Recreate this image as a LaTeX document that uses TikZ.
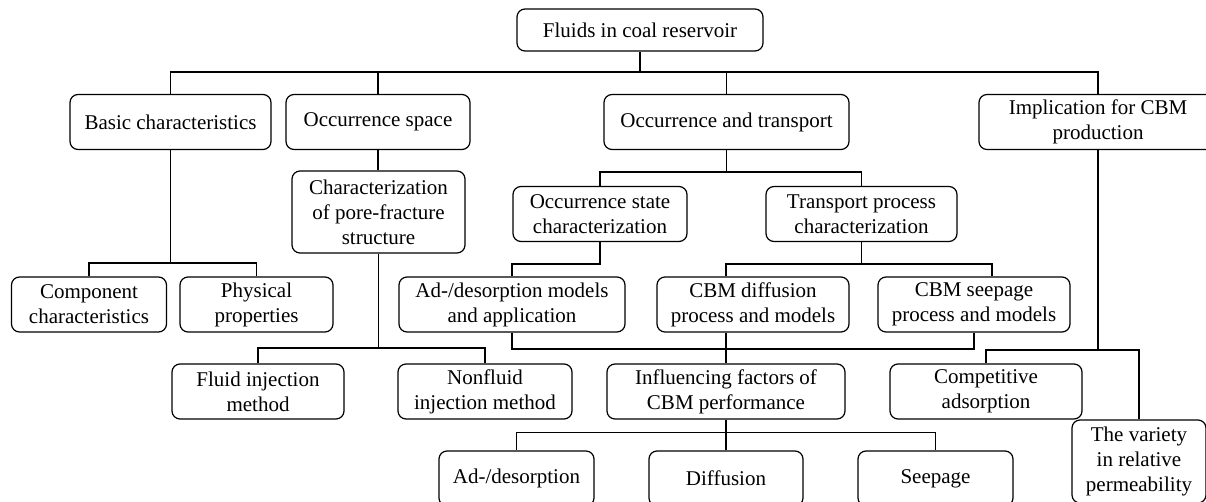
\documentclass[tikz,border=0pt]{standalone}
\usepackage{fontspec}
\setmainfont{Liberation Serif}
\usetikzlibrary{positioning}

\begin{document}
\begin{tikzpicture}[x=0.5pt,y=-0.5pt,line width=0.6pt,
        every node/.style={font=\fontsize{10.5}{12.5}\selectfont}]
        \tikzstyle{box}=[draw=black,fill=white,text=black,rounded corners=4pt,align=center,inner sep=1pt,minimum height=27.5pt]
        \useasboundingbox (0,0) rectangle (1206,502);
        % nodes
        \node[box,minimum width=123pt,minimum height=21pt](root) at (640,30){Fluids in coal reservoir};
        \node[box,minimum width=100.5pt](basic) at (170.5,122){Basic characteristics};
        \node[box,minimum width=92pt](space) at (378,122){Occurrence space};
        \node[box,minimum width=122.5pt](occtrans) at (726.5,122){Occurrence and transport};
        \node[box,minimum width=119pt](impl) at (1098,122){Implication for CBM\\production};
        \node[box,minimum width=86.5pt,minimum height=41pt](pore) at (378.5,212){Characterization\\of pore-fracture\\structure};
        \node[box,minimum width=87pt](occstate) at (600,214){Occurrence state\\characterization};
        \node[box,minimum width=95.5pt](transproc) at (861.5,214){Transport process\\characterization};
        \node[box,minimum width=77.5pt](comp) at (89,304.5){Component\\characteristics};
        \node[box,minimum width=76.5pt](phys) at (256.5,304.5){Physical\\properties};
        \node[box,minimum width=113pt](adsmod) at (512,304.5){Ad-/desorption models\\and application};
        \node[box,minimum width=96pt](cbmdiff) at (753,304.5){CBM diffusion\\process and models};
        \node[box,minimum width=96pt](seepmod) at (974,304.5){CBM seepage\\process and models};
        \node[box,minimum width=86pt](fluid) at (258,391.5){Fluid injection\\method};
        \node[box,minimum width=87pt](nonfluid) at (485,391.5){Nonfluid\\injection method};
        \node[box,minimum width=119pt](infl) at (726,391.5){Influencing factors of\\CBM performance};
        \node[box,minimum width=96pt](compet) at (986,391.5){Competitive\\adsorption};
        \node[box,minimum width=67pt,minimum height=41.5pt](variety) at (1139,461.5){The variety\\in relative\\permeability};
        \node[box,minimum width=77.5pt](adsorp) at (516.5,478.5){Ad-/desorption};
        \node[box,minimum width=77pt](diffusion) at (726,478.5){Diffusion};
        \node[box,minimum width=77.5pt](seepage) at (935.5,478.5){Seepage};
        % connectors
        \coordinate (bus0) at (640,72);
        \draw (root.south) -- (bus0);
        \draw (basic.north) |- (bus0) -| (impl.north);
        \draw (space.north) -- (space.north |- bus0);
        \draw (occtrans.north) -- (occtrans.north |- bus0);
        \coordinate (bus1) at (170.5,263);
        \draw (basic.south) -- (bus1);
        \draw (comp.north) |- (bus1) -| (phys.north);
        \draw (space.south) -- (space.south |- pore.north);
        \coordinate (bus2) at (726.5,172);
        \draw (occtrans.south) -- (bus2);
        \draw (occstate.north) |- (bus2) -| (transproc.north);
        \coordinate (bus3) at (378.5,348);
        \draw (pore.south) -- (bus3);
        \draw (fluid.north) |- (bus3) -| (nonfluid.north);
        \draw (occstate.south) -- ++(0,22) -| (adsmod.north);
        \draw (transproc.south) -- ++(0,22) coordinate (bus5);
        \draw (cbmdiff.north -| infl.north) |- (bus5) -| ([xshift=9pt]seepmod.north);
        \coordinate (bus6) at (726,349);
        \draw (adsmod.south) |- (bus6) -| (seepmod.south);
        \draw (cbmdiff.south -| infl.north) -- (infl.north);
        \draw (impl.south) -- ++(0,200) coordinate (bus7);
        \draw (compet.north) |- (bus7) -| (variety.north);
        \draw (infl.south) -- ++(0,13) coordinate (bus8);
        \draw (adsorp.north) |- (bus8) -| (seepage.north);
        \draw (bus8) -- (diffusion.north);
     \end{tikzpicture}
\end{document}
